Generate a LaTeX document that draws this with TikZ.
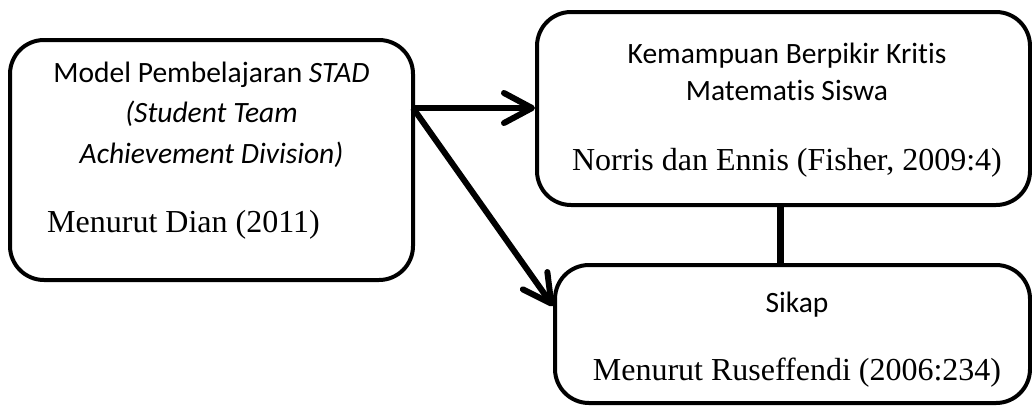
\documentclass[tikz,border=0pt]{standalone}
\usepackage{fontspec}
\setmainfont{Liberation Serif}
\newfontfamily\calfont[Ligatures=NoCommon]{Carlito}
\usetikzlibrary{arrows.meta,calc}
\tikzset{
  box/.style={draw, line width=4pt, rounded corners=34pt, inner sep=0pt},
  sans/.style={font=\calfont\fontsize{29.5}{34}\selectfont, anchor=base, inner sep=0pt},
  serif/.style={font=\fontsize{32}{36}\selectfont, anchor=base, inner sep=0pt},
  arr/.style={line width=6pt, -{Straight Barb[length=28pt,width=30pt,round]}},
  link/.style={line width=7pt}
}
\begin{document}
\begin{tikzpicture}[x=1pt,y=-1pt]
\useasboundingbox (0,0) rectangle (1032,408);
\node[box, minimum width=403pt, minimum height=240pt] (A) at (211.5,160) {};
\node[box, minimum width=493pt, minimum height=193pt] (B) at (783.5,108.5) {};
\node[box, minimum width=475pt, minimum height=138pt] (C) at (792.5,334) {};
% texts
\node[sans] (a1) at (211.5,82) {Model Pembelajaran \textit{STAD}};
\node[sans] (a2) at (211.5,122) {\textit{(Student Team}};
\node[sans] (a3) at (211.5,163) {\textit{Achievement Division)}};
\node[serif, anchor=base west] (a4) at (47,232) {Menurut Dian (2011)};
\node[sans] (b1) at (787,63) {Kemampuan Berpikir Kritis};
\node[sans] (b2) at (787,100) {Matematis Siswa};
\node[serif] (b3) at (787,170) {Norris dan Ennis (Fisher, 2009:4)};
\node[sans] (c1) at (797,312) {Sikap};
\node[serif] (c2) at (797,380) {Menurut Ruseffendi (2006:234)};
% connectors
\coordinate (s) at (413,108);
\draw[arr] (s) -- (B.west |- s);
\draw[arr] (s) -- (C.west |- 0,306);
\draw[link] (B.south -| 780,0) -- (C.north -| 780,0);
\end{tikzpicture}
\end{document}
